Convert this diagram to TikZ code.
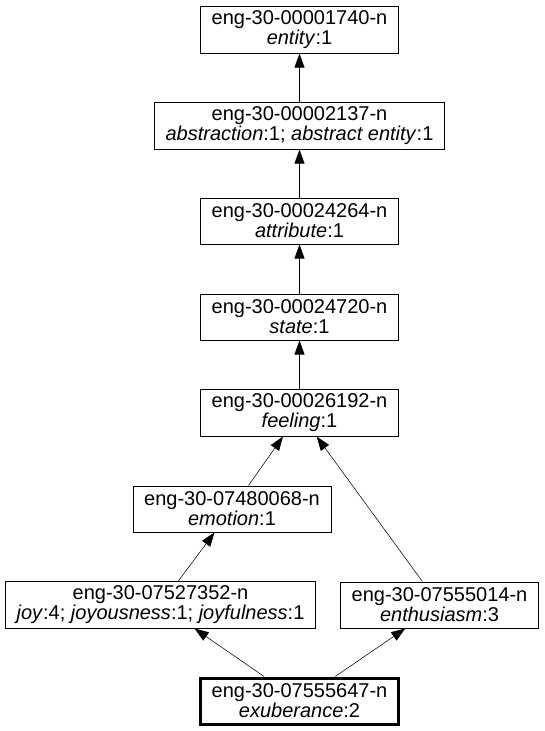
\documentclass[tikz,border=0pt]{standalone}
\usepackage{fontspec}
\setmainfont{Liberation Sans}
\usetikzlibrary{arrows.meta}
\begin{document}
\begin{tikzpicture}[x=0.75pt, y=-0.75pt, >={Triangle[length=10.5pt,width=7.5pt]},
  synset/.style={draw, line width=0.75pt, align=center, minimum width=148.5pt, minimum height=34.5pt,
    inner xsep=8.25pt, inner ysep=3pt, font=\fontsize{15}{15}\selectfont}]
\useasboundingbox (0,0) rectangle (544,731);
\node[synset] (entity) at (299.5,30) {eng-30-00001740-n\\\textit{entity}:1};
\node[synset] (abstraction) at (299.5,126) {eng-30-00002137-n\\\textit{abstraction}:1; \textit{abstract entity}:1};
\node[synset] (attribute) at (299.5,221) {eng-30-00024264-n\\\textit{attribute}:1};
\node[synset] (state) at (299.5,317) {eng-30-00024720-n\\\textit{state}:1};
\node[synset] (feeling) at (299.5,413) {eng-30-00026192-n\\\textit{feeling}:1};
\node[synset] (emotion) at (232,509) {eng-30-07480068-n\\\textit{emotion}:1};
\node[synset] (joy) at (160.5,605) {eng-30-07527352-n\\\textit{joy}:4; \textit{joyousness}:1; \textit{joyfulness}:1};
\node[synset] (enthusiasm) at (439.5,605) {eng-30-07555014-n\\\textit{enthusiasm}:3};
\node[synset, line width=2.25pt] (exuberance) at (299.5,701) {eng-30-07555647-n\\\textit{exuberance}:2};
\draw[->] (abstraction) -- (entity);
\draw[->] (attribute) -- (abstraction);
\draw[->] (state) -- (attribute);
\draw[->] (feeling) -- (state);
\draw[->] (emotion) -- (feeling);
\draw[->] (enthusiasm) -- (feeling);
\draw[->] (joy) -- (emotion);
\draw[->] (exuberance) -- (joy);
\draw[->] (exuberance) -- (enthusiasm);
\end{tikzpicture}
\end{document}
